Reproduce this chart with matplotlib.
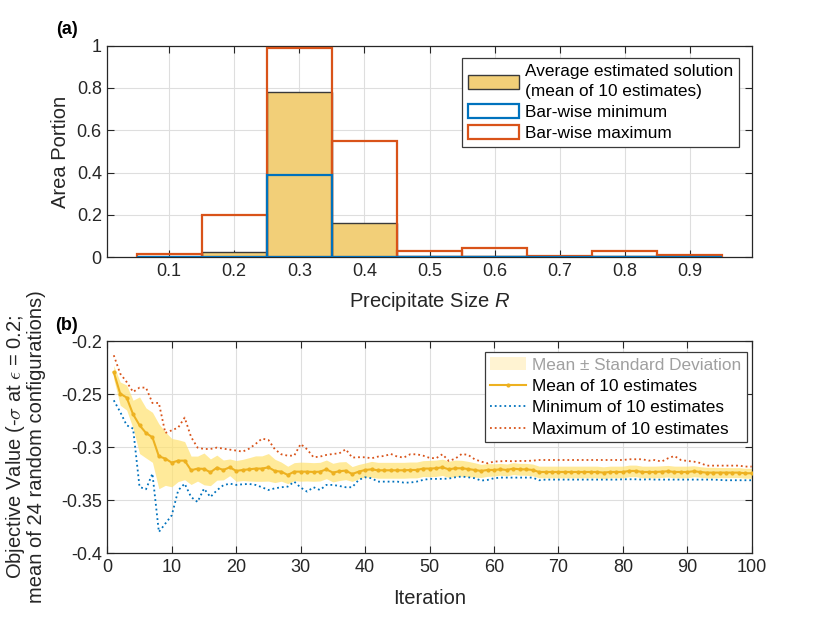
import numpy as np
import matplotlib
matplotlib.use("Agg")
import matplotlib.pyplot as plt
from matplotlib.patches import Patch
from matplotlib.lines import Line2D

plt.rcParams['font.family'] = ['Liberation Sans', 'DejaVu Sans']
plt.rcParams['mathtext.fontset'] = 'custom'
plt.rcParams['mathtext.it'] = 'Liberation Sans:italic'
plt.rcParams['mathtext.rm'] = 'Liberation Sans'
plt.rcParams['axes.unicode_minus'] = False

# ---------------- data: panel (a) ----------------
bin_centers = [0.1, 0.2, 0.3, 0.4, 0.5, 0.6, 0.7, 0.8, 0.9]
avg_portion = [0.002, 0.024, 0.781, 0.164, 0.008, 0.004, 0.001, 0.006, 0.002]
min_portion = [0.0, 0.0, 0.391, 0.0, 0.0, 0.0, 0.0, 0.002, 0.0]
max_portion = [0.017, 0.200, 0.990, 0.548, 0.030, 0.044, 0.005, 0.028, 0.009]
x_ticks_a = [0.1, 0.2, 0.3, 0.4, 0.5, 0.6, 0.7, 0.8, 0.9]
y_ticks_a = [0, 0.2, 0.4, 0.6, 0.8, 1]

# ---------------- data: panel (b) ----------------
iterations = list(range(1, 101))
mean_vals = [
    -0.2292, -0.2494, -0.2531, -0.2689, -0.2792, -0.2865, -0.2906, -0.3085, -0.3107, -0.3145,
    -0.3126, -0.3126, -0.3217, -0.3201, -0.3204, -0.3236, -0.3192, -0.3214, -0.3189, -0.3223,
    -0.3214, -0.3208, -0.3201, -0.3201, -0.3189, -0.3223, -0.3230, -0.3261, -0.3230, -0.3230,
    -0.3230, -0.3233, -0.3230, -0.3208, -0.3239, -0.3226, -0.3220, -0.3252, -0.3230, -0.3214,
    -0.3208, -0.3217, -0.3217, -0.3217, -0.3217, -0.3217, -0.3214, -0.3214, -0.3201, -0.3201,
    -0.3198, -0.3189, -0.3208, -0.3198, -0.3198, -0.3205, -0.3214, -0.3223, -0.3214, -0.3214,
    -0.3208, -0.3214, -0.3201, -0.3208, -0.3208, -0.3214, -0.3233, -0.3233, -0.3233, -0.3233,
    -0.3233, -0.3233, -0.3233, -0.3233, -0.3233, -0.3233, -0.3239, -0.3233, -0.3233, -0.3233,
    -0.3223, -0.3223, -0.3233, -0.3233, -0.3233, -0.3230, -0.3226, -0.3233, -0.3233, -0.3233,
    -0.3226, -0.3233, -0.3239, -0.3239, -0.3239, -0.3239, -0.3239, -0.3239, -0.3245, -0.3245]
std_vals = [
    0.0063, 0.0110, 0.0118, 0.0133, 0.0267, 0.0236, 0.0236, 0.0306, 0.0252, 0.0228,
    0.0197, 0.0180, 0.0134, 0.0118, 0.0150, 0.0126, 0.0118, 0.0094, 0.0079, 0.0098,
    0.0100, 0.0110, 0.0120, 0.0120, 0.0130, 0.0110, 0.0090, 0.0082, 0.0085, 0.0090,
    0.0088, 0.0088, 0.0088, 0.0088, 0.0088, 0.0088, 0.0085, 0.0070, 0.0068, 0.0066,
    0.0075, 0.0075, 0.0075, 0.0075, 0.0075, 0.0075, 0.0075, 0.0075, 0.0075, 0.0077,
    0.0077, 0.0077, 0.0077, 0.0077, 0.0075, 0.0072, 0.0068, 0.0062, 0.0060, 0.0058,
    0.0056, 0.0056, 0.0056, 0.0056, 0.0056, 0.0056, 0.0055, 0.0055, 0.0055, 0.0055,
    0.0055, 0.0055, 0.0055, 0.0055, 0.0055, 0.0055, 0.0055, 0.0055, 0.0055, 0.0055,
    0.0055, 0.0055, 0.0055, 0.0055, 0.0055, 0.0055, 0.0055, 0.0055, 0.0055, 0.0055,
    0.0052, 0.0050, 0.0050, 0.0050, 0.0048, 0.0048, 0.0047, 0.0047, 0.0047, 0.0047]
min_vals = [
    -0.2557, -0.2667, -0.2792, -0.2824, -0.3374, -0.3396, -0.3248, -0.3799, -0.3720, -0.3642,
    -0.3406, -0.3343, -0.3469, -0.3516, -0.3390, -0.3469, -0.3406, -0.3358, -0.3343, -0.3355,
    -0.3349, -0.3346, -0.3355, -0.3377, -0.3403, -0.3387, -0.3377, -0.3371, -0.3324, -0.3380,
    -0.3418, -0.3377, -0.3403, -0.3355, -0.3355, -0.3365, -0.3377, -0.3377, -0.3308, -0.3283,
    -0.3292, -0.3324, -0.3324, -0.3324, -0.3324, -0.3333, -0.3333, -0.3324, -0.3308, -0.3298,
    -0.3298, -0.3298, -0.3295, -0.3283, -0.3276, -0.3283, -0.3292, -0.3314, -0.3308, -0.3292,
    -0.3286, -0.3286, -0.3286, -0.3286, -0.3286, -0.3286, -0.3311, -0.3305, -0.3305, -0.3305,
    -0.3305, -0.3305, -0.3305, -0.3305, -0.3305, -0.3305, -0.3305, -0.3305, -0.3305, -0.3302,
    -0.3302, -0.3302, -0.3305, -0.3302, -0.3305, -0.3305, -0.3305, -0.3305, -0.3305, -0.3305,
    -0.3305, -0.3305, -0.3305, -0.3305, -0.3308, -0.3311, -0.3311, -0.3311, -0.3311, -0.3311]
max_vals = [
    -0.2132, -0.2305, -0.2384, -0.2478, -0.2437, -0.2437, -0.2582, -0.2582, -0.2865, -0.2840,
    -0.2814, -0.2720, -0.2903, -0.3003, -0.3016, -0.3016, -0.3003, -0.3013, -0.3022, -0.3031,
    -0.3041, -0.3013, -0.2969, -0.2918, -0.2931, -0.3019, -0.3066, -0.3079, -0.3079, -0.2969,
    -0.3019, -0.3094, -0.3088, -0.3072, -0.3063, -0.3057, -0.3019, -0.3097, -0.3094, -0.3094,
    -0.3104, -0.3088, -0.3082, -0.3063, -0.3088, -0.3097, -0.3066, -0.3066, -0.3079, -0.3100,
    -0.3104, -0.3066, -0.3129, -0.3107, -0.3063, -0.3072, -0.3113, -0.3135, -0.3151, -0.3135,
    -0.3132, -0.3129, -0.3132, -0.3129, -0.3129, -0.3126, -0.3120, -0.3120, -0.3120, -0.3120,
    -0.3120, -0.3120, -0.3120, -0.3120, -0.3120, -0.3120, -0.3120, -0.3120, -0.3120, -0.3120,
    -0.3113, -0.3113, -0.3113, -0.3126, -0.3120, -0.3135, -0.3104, -0.3082, -0.3120, -0.3129,
    -0.3135, -0.3148, -0.3173, -0.3173, -0.3173, -0.3173, -0.3173, -0.3173, -0.3182, -0.3182]
x_ticks_b = [0, 10, 20, 30, 40, 50, 60, 70, 80, 90, 100]
y_ticks_b = [-0.4, -0.35, -0.3, -0.25, -0.2]
y_ticklabels_b = ['-0.4', '-0.35', '-0.3', '-0.25', '-0.2']

C_YEL = '#EDB120'
C_BLUE = '#0072BD'
C_RED = '#D95319'
AX_COL = '#262626'
LEG_FS = 12.4

fig = plt.figure(figsize=(8.30, 6.23), dpi=100)
axa = fig.add_axes([0.1293, 0.587, 0.7764, 0.3397])
axb = fig.add_axes([0.1293, 0.1119, 0.7764, 0.3403])


def style(ax):
    ax.set_axisbelow(True)
    ax.grid(True, color='#dedede', linewidth=0.8)
    ax.tick_params(direction='in', top=True, right=True, labelsize=13,
                   colors=AX_COL, length=5, width=0.8, pad=4)
    for s in ax.spines.values():
        s.set_color(AX_COL)
        s.set_linewidth(0.9)


# panel (a)
style(axa)
w = 0.1
axa.bar(bin_centers, avg_portion, width=w, color='#F2CF78', edgecolor='#3a3a3a',
        linewidth=1.0, zorder=2)
axa.bar(bin_centers, max_portion, width=w, facecolor='none', edgecolor=C_RED,
        linewidth=1.6, zorder=3)
axa.bar(bin_centers, min_portion, width=w, facecolor='none', edgecolor=C_BLUE,
        linewidth=1.6, zorder=4)
axa.set_xlim(0.005, 0.995)
axa.set_ylim(0, 1)
axa.set_xticks(x_ticks_a)
axa.set_xticklabels([f'{t:g}' for t in x_ticks_a])
axa.set_yticks(y_ticks_a)
axa.set_yticklabels([f'{t:g}' for t in y_ticks_a])
leg_a = [Patch(facecolor='#F2CF78', edgecolor='#3a3a3a', linewidth=1.0),
         Patch(facecolor='white', edgecolor=C_BLUE, linewidth=1.6),
         Patch(facecolor='white', edgecolor=C_RED, linewidth=1.6)]
la = axa.legend(leg_a, ['Average estimated solution\n(mean of 10 estimates)',
                        'Bar-wise minimum', 'Bar-wise maximum'],
                loc='upper right', bbox_to_anchor=(0.98, 0.94), fontsize=LEG_FS,
                fancybox=False, framealpha=1, edgecolor='#3a3a3a',
                handlelength=3.0, handleheight=0.88, handletextpad=0.3,
                borderpad=0.35, labelspacing=0.3, borderaxespad=0.0)
la.get_frame().set_linewidth(0.9)
for t in la.get_texts():
    t.set_linespacing(1.35)

# panel (b)
style(axb)
it = np.array(iterations)
mu = np.array(mean_vals)
sd = np.array(std_vals)
axb.fill_between(it, mu - sd, mu + sd, color='#FFE270', alpha=0.7, linewidth=0, zorder=2)
axb.plot(it, min_vals, ':', color=C_BLUE, linewidth=1.3, zorder=3)
axb.plot(it, max_vals, ':', color=C_RED, linewidth=1.3, zorder=3)
axb.plot(it, mean_vals, '-', color=C_YEL, linewidth=1.5, marker='.', markersize=4, zorder=4)
axb.set_xlim(0, 100)
axb.set_ylim(-0.4, -0.2)
axb.set_xticks(x_ticks_b)
axb.set_yticks(y_ticks_b)
axb.set_yticklabels(y_ticklabels_b)
leg_b = [Patch(facecolor='#FFF3D2', edgecolor='none'),
         Line2D([], [], color=C_YEL, linewidth=1.5, marker='.', markersize=4),
         Line2D([], [], color=C_BLUE, linestyle=':', linewidth=1.3),
         Line2D([], [], color=C_RED, linestyle=':', linewidth=1.3)]
lb = axb.legend(leg_b, ['Mean \u00b1 Standard Deviation', 'Mean of 10 estimates',
                        'Minimum of 10 estimates', 'Maximum of 10 estimates'],
                loc='upper right', bbox_to_anchor=(0.992, 0.948), fontsize=LEG_FS,
                fancybox=False, framealpha=1, edgecolor='#3a3a3a',
                handlelength=2.1, handletextpad=0.35, borderpad=0.3,
                labelspacing=0.37, borderaxespad=0.0)
lb.get_frame().set_linewidth(0.9)
lb.get_texts()[0].set_color('#a0a0a0')

# labels
fig.text(67 / 830, 1 - 29 / 623, '(a)', fontsize=13, fontweight='bold', ha='center', va='center')
fig.text(67 / 830, 1 - 325 / 623, '(b)', fontsize=13, fontweight='bold', ha='center', va='center')
fig.text(429.5 / 830, 1 - 302 / 623, 'Precipitate Size $R$', fontsize=14.5, ha='center',
         va='center', color=AX_COL)
fig.text(429.5 / 830, 1 - 599 / 623, 'Iteration', fontsize=14.5, ha='center',
         va='center', color=AX_COL)
fig.text(60 / 830, 1 - 151.5 / 623, 'Area Portion', fontsize=14.5, ha='center',
         va='center', rotation=90, color=AX_COL)
fig.text(25 / 830, 1 - 447 / 623,
         'Objective Value (-$\\sigma$ at $\\epsilon$ = 0.2;\nmean of 24 random configurations)',
         fontsize=14.5, ha='center', va='center', rotation=90, color=AX_COL,
         multialignment='center', linespacing=1.0, math_fontfamily='cm')

fig.savefig('out.png', dpi=100)
